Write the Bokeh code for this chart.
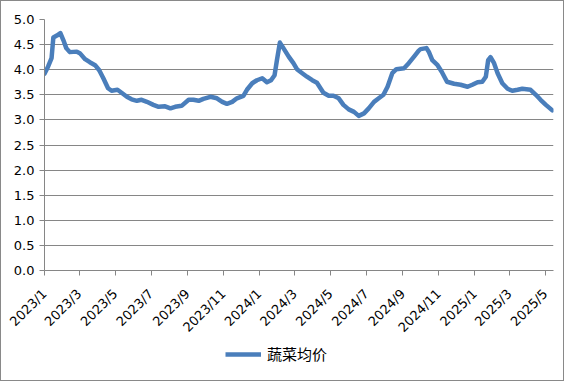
import math
from datetime import datetime
from bokeh.plotting import figure
from bokeh.layouts import column
from bokeh.models import (ColumnDataSource, Range1d, FixedTicker, PrintfTickFormatter,
                          Legend, LegendItem)
from bokeh.embed import file_html
from bokeh.resources import INLINE

dates = [
    "2023-01-01", "2023-01-07", "2023-01-13", "2023-01-16", "2023-01-22", "2023-01-28",
    "2023-02-02", "2023-02-07", "2023-02-13", "2023-02-25", "2023-03-02", "2023-03-11",
    "2023-03-19", "2023-03-28", "2023-04-04", "2023-04-11", "2023-04-19", "2023-04-25",
    "2023-05-05", "2023-05-12", "2023-05-21", "2023-05-29", "2023-06-07", "2023-06-15",
    "2023-06-24", "2023-07-05", "2023-07-14", "2023-07-25", "2023-08-03", "2023-08-11",
    "2023-08-22", "2023-09-03", "2023-09-11", "2023-09-20", "2023-09-28", "2023-10-10",
    "2023-10-21", "2023-10-30", "2023-11-07", "2023-11-16", "2023-11-24", "2023-12-05",
    "2023-12-11", "2023-12-20", "2023-12-28", "2024-01-06", "2024-01-14", "2024-01-21",
    "2024-01-27", "2024-01-31", "2024-02-05", "2024-02-11", "2024-02-20", "2024-02-28",
    "2024-03-05", "2024-03-14", "2024-03-22", "2024-03-31", "2024-04-08", "2024-04-14",
    "2024-04-19", "2024-04-28", "2024-05-06", "2024-05-15", "2024-05-23", "2024-06-01",
    "2024-06-10", "2024-06-18", "2024-06-27", "2024-07-05", "2024-07-14", "2024-07-22",
    "2024-07-30", "2024-08-06", "2024-08-14", "2024-08-21", "2024-09-03", "2024-09-11",
    "2024-09-20", "2024-09-28", "2024-10-01", "2024-10-11", "2024-10-15", "2024-10-21",
    "2024-10-30", "2024-11-06", "2024-11-15", "2024-11-27", "2024-12-08", "2024-12-20",
    "2024-12-28", "2025-01-06", "2025-01-14", "2025-01-20", "2025-01-24", "2025-01-28",
    "2025-02-03", "2025-02-09", "2025-02-17", "2025-02-26", "2025-03-06", "2025-03-15",
    "2025-03-23", "2025-04-06", "2025-04-15", "2025-04-23", "2025-05-02", "2025-05-13",
]
prices = [
    3.92, 4.06, 4.23, 4.64, 4.68, 4.73,
    4.59, 4.43, 4.35, 4.36, 4.33, 4.21,
    4.15, 4.09, 3.99, 3.83, 3.63, 3.58,
    3.60, 3.54, 3.46, 3.41, 3.38, 3.40,
    3.36, 3.30, 3.26, 3.27, 3.23, 3.26,
    3.28, 3.40, 3.40, 3.38, 3.42, 3.46,
    3.43, 3.36, 3.32, 3.36, 3.43, 3.48,
    3.60, 3.73, 3.79, 3.83, 3.75, 3.79,
    3.89, 4.19, 4.54, 4.43, 4.26, 4.13,
    4.01, 3.93, 3.86, 3.79, 3.74, 3.63,
    3.54, 3.48, 3.48, 3.43, 3.30, 3.21,
    3.16, 3.08, 3.13, 3.23, 3.36, 3.43,
    3.50, 3.66, 3.93, 4.01, 4.03, 4.13,
    4.26, 4.38, 4.41, 4.43, 4.36, 4.19,
    4.09, 3.96, 3.76, 3.72, 3.70, 3.66,
    3.70, 3.75, 3.76, 3.86, 4.19, 4.25,
    4.13, 3.93, 3.73, 3.62, 3.58, 3.60,
    3.62, 3.60, 3.50, 3.40, 3.30, 3.19,
]
tick_dates = ["2023-01-01", "2023-03-01", "2023-05-01", "2023-07-01", "2023-09-01",
              "2023-11-01", "2024-01-01", "2024-03-01", "2024-05-01", "2024-07-01",
              "2024-09-01", "2024-11-01", "2025-01-01", "2025-03-01", "2025-05-01"]
tick_labels = ["2023/1", "2023/3", "2023/5", "2023/7", "2023/9", "2023/11", "2024/1",
               "2024/3", "2024/5", "2024/7", "2024/9", "2024/11", "2025/1", "2025/3",
               "2025/5"]
y_ticks = [0.0, 0.5, 1.0, 1.5, 2.0, 2.5, 3.0, 3.5, 4.0, 4.5, 5.0]
series_name = "蔬菜均价"

def to_dt(s):
    return datetime.strptime(s, "%Y-%m-%d")

def to_ms(s):
    return (to_dt(s) - datetime(1970, 1, 1)).total_seconds() * 1000.0

src = ColumnDataSource(dict(x=[to_dt(d) for d in dates], y=prices))

GRID = "#868686"
FONT = "DejaVu Sans"
LINE_COLOR = "#4a7ebb"

p = figure(width=562, height=342, x_axis_type="datetime",
           output_backend="svg", toolbar_location=None,
           x_range=Range1d(to_dt("2023-01-01"), to_dt("2025-05-15")),
           y_range=Range1d(0, 5),
           min_border_left=43, min_border_right=10, min_border_top=18,
           min_border_bottom=72)
p.outline_line_color = None
p.background_fill_color = "white"
p.border_fill_color = "white"

line = p.line("x", "y", source=src, line_color=LINE_COLOR, line_width=4.5,
              line_join="round", line_cap="round")

# x axis
xa = p.xaxis[0]
xa.ticker = FixedTicker(ticks=[to_ms(d) for d in tick_dates])
xa.major_label_overrides = {to_ms(d): lab for d, lab in zip(tick_dates, tick_labels)}
xa.major_label_orientation = math.pi / 4
xa.minor_tick_line_color = None
xa.major_tick_out = 5
xa.major_tick_in = 0
xa.axis_line_color = GRID
xa.major_tick_line_color = GRID
xa.major_label_text_font = FONT
xa.major_label_text_font_size = "13px"
xa.major_label_text_color = "#000000"
xa.major_label_standoff = 16

# y axis
ya = p.yaxis[0]
ya.ticker = FixedTicker(ticks=y_ticks)
ya.formatter = PrintfTickFormatter(format="%.1f")
ya.minor_tick_line_color = None
ya.major_tick_out = 5
ya.major_tick_in = 0
ya.axis_line_color = GRID
ya.major_tick_line_color = GRID
ya.major_label_text_font = FONT
ya.major_label_text_font_size = "13px"
ya.major_label_text_color = "#000000"
ya.major_label_standoff = 5

p.xgrid.grid_line_color = None
p.ygrid.grid_line_color = GRID
p.ygrid.grid_line_width = 1
p.ygrid.ticker = FixedTicker(ticks=y_ticks)

# legend strip below the chart
pl = figure(width=562, height=37, output_backend="svg", toolbar_location=None,
            x_axis_location=None, y_axis_location=None,
            x_range=Range1d(0, 1), y_range=Range1d(0, 1),
            min_border=0)
pl.outline_line_color = None
pl.grid.visible = False
pl.background_fill_color = "white"
pl.border_fill_color = "white"
leg_line = pl.line(x=[5, 6], y=[5, 6], line_color=LINE_COLOR, line_width=4.5)

legend = Legend(items=[LegendItem(label=series_name, renderers=[leg_line])],
                location=(181, 16), orientation="horizontal",
                glyph_width=36, glyph_height=20, label_standoff=6,
                padding=0, margin=0, border_line_color=None,
                background_fill_alpha=0,
                label_text_font="Noto Sans CJK SC", label_text_font_size="15px",
                label_text_color="#000000")
pl.add_layout(legend, "center")

layout = column(p, pl, spacing=0)
layout.styles = {"border": "1px solid #898989", "background-color": "white"}

open("out.html", "w").write(file_html(layout, INLINE))
